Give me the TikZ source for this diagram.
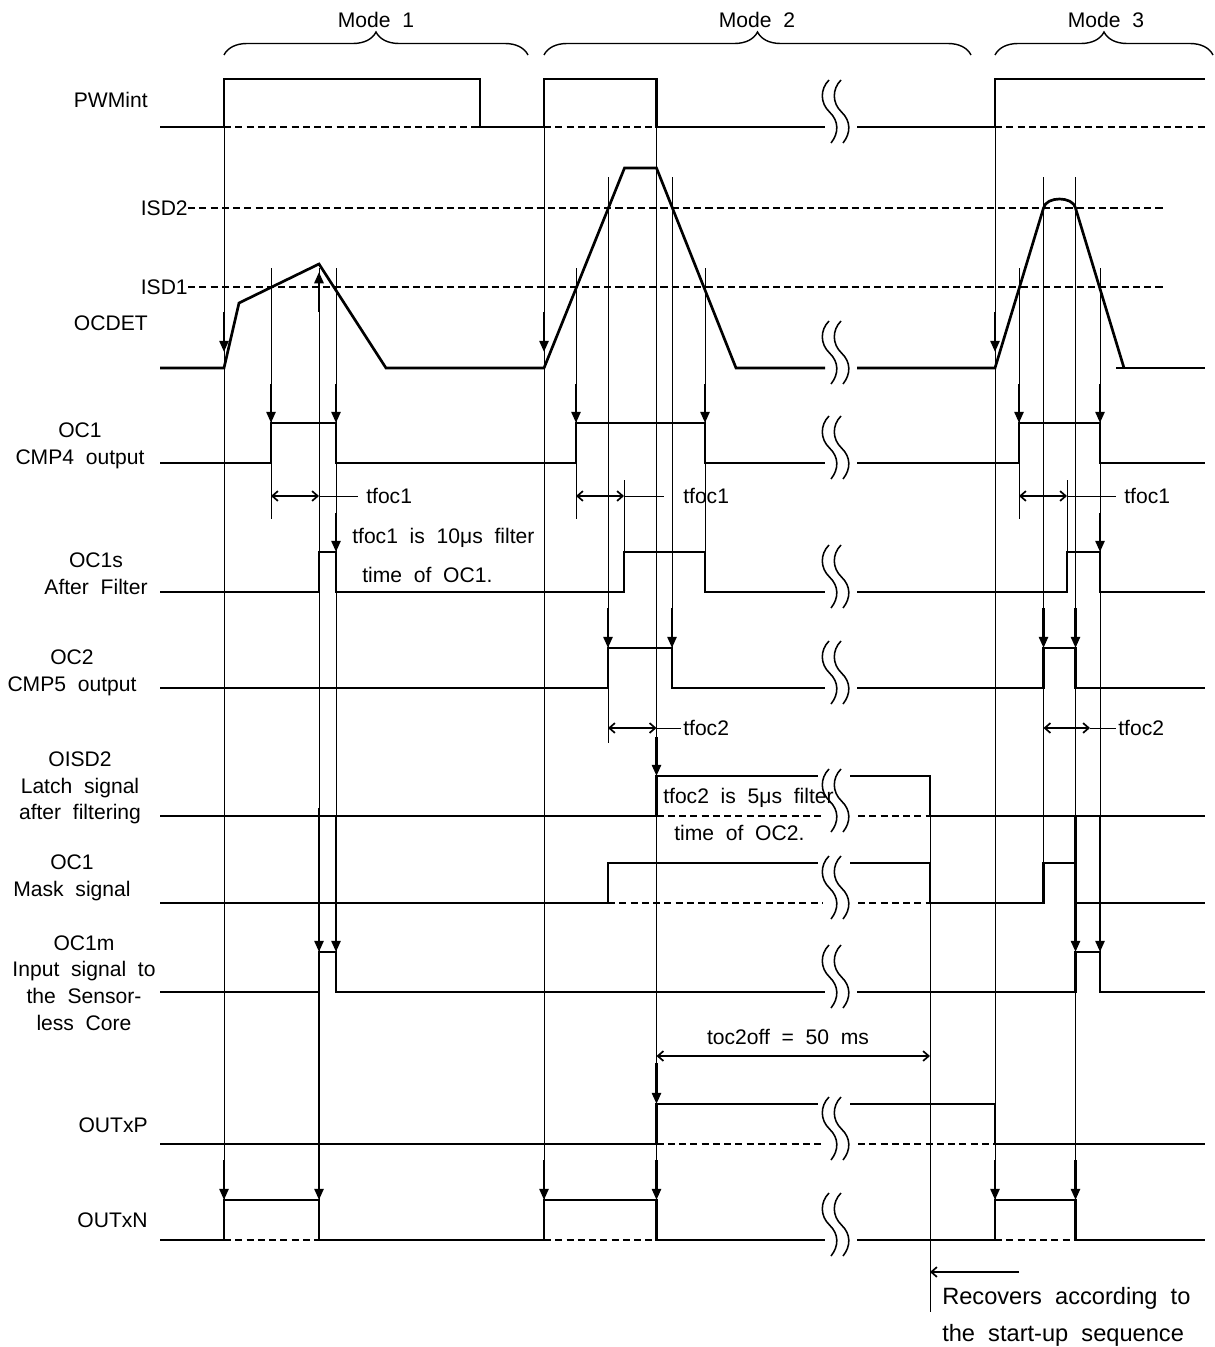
\documentclass[tikz,border=0pt]{standalone}
\usepackage{fontspec}
\setmainfont{Liberation Sans}[WordSpace=2]
\usetikzlibrary{arrows.meta,decorations.pathreplacing}

\newcommand{\sqbreak}[1]{%
  \foreach \dx in {0,12}{%
    \draw[brk, shift={(\dx,#1)}] (829,-47) .. controls (820,-38) and (820,-24) .. (829.5,-15)
      .. controls (839,-6) and (839,6) .. (831,16);
  }}

\begin{document}
\begin{tikzpicture}[
        x=0.025cm, y=-0.025cm,
        font=\fontsize{15}{19}\selectfont,
        sig/.style={line width=1.9pt, line join=miter},
        guide/.style={line width=0.7pt},
        lowref/.style={line width=0.8pt, dash pattern=on 5pt off 3pt},
        trig/.style={line width=1.7pt, -{Triangle[length=8pt,width=6.5pt]}},
        dimarr/.style={line width=1.2pt, {Straight Barb[length=4pt,width=7pt]}-{Straight Barb[length=4pt,width=7pt]}},
        brk/.style={line width=1.1pt},
        brc/.style={line width=1pt, decorate, decoration={brace, amplitude=0.575cm}},
        lbl/.style={inner sep=0pt, align=center}
    ]
    \useasboundingbox (0,0) rectangle (1215,1347);

    % modes
    \draw[brc] (224,55) -- (528,55);
    \draw[brc] (544,55) -- (971,55);
    \draw[brc] (995,55) -- (1213,55);
    \node[lbl] (mode1) at (376,20) {Mode 1};
    \node[lbl] (mode2) at (757,20) {Mode 2};
    \node[lbl] (mode3) at (1106,20) {Mode 3};

    % signal names
    \node[lbl, anchor=east] (pwm) at (148,100) {PWMint};
    \node[lbl, anchor=east] (isd2) at (188,208) {ISD2};
    \node[lbl, anchor=east] (isd1) at (188,287) {ISD1};
    \node[lbl, anchor=east] (ocdet) at (148,323) {OCDET};
    \node[lbl] (oc1) at (80,446) {OC1\\CMP4 output};
    \node[lbl] (oc1s) at (96,574) {OC1s\\After Filter};
    \node[lbl] (oc2) at (72,673) {OC2\\CMP5 output};
    \node[lbl] (oisd2) at (80,788) {OISD2\\Latch signal\\after filtering};
    \node[lbl] (mask) at (72,878) {OC1\\Mask signal};
    \node[lbl] (oc1m) at (84,983) {OC1m\\Input signal to\\the Sensor-\\less Core};
    \node[lbl, anchor=east] (outp) at (148,1125) {OUTxP};
    \node[lbl, anchor=east] (outn) at (148,1220) {OUTxN};

    % guide lines
    \foreach \x/\ya/\yb in {224/127/1200, 271/268/519, 319/268/1200, 336/268/992,
        544/127/1200, 576/268/519, 608/177/743, 624/480/552, 656.5/127/1200,
        672/177/688, 705/268/592, 930/776/1312, 995/127/1200, 1019/268/519,
        1043.5/177/903, 1067/480/552, 1075.5/177/1200, 1100/268/992}
        {\draw[guide] (\x,\ya) -- (\x,\yb);}

    % thresholds
    \draw[lowref] (188,208) -- (1163,208);
    \draw[lowref] (188,287) -- (1163,287);

    % dashed low levels
    \draw[lowref] (224,127) -- (480,127) (544,127) -- (656.5,127) (995,127) -- (1205,127);
    \draw[lowref] (656.5,816) -- (822,816) (858,816) -- (930,816);
    \draw[lowref] (608,903) -- (822,903) (858,903) -- (930,903);
    \draw[lowref] (656.5,1144) -- (822,1144) (858,1144) -- (995,1144);
    \draw[lowref] (224,1240) -- (319,1240) (544,1240) -- (656.5,1240) (995,1240) -- (1075.5,1240);

    % PWMint
    \draw[sig] (160,127) -- (224,127) -- (224,79) -- (480,79) -- (480,127) -- (544,127) -- (544,79)
        -- (656.5,79) -- (656.5,127) -- (825,127);
    \draw[sig] (857,127) -- (995,127) -- (995,79) -- (1205,79);

    % OCDET
    \draw[sig] (160,368) -- (224,368) -- (239,303) -- (319,264) -- (386,368) -- (544,368)
        -- (624.5,168) -- (656.5,168) -- (736,368) -- (825,368);
    \draw[sig] (857,368) -- (995,368) -- (1043.5,208) .. controls (1046,196) and (1073,196) .. (1075.5,208)
        -- (1124,368);
    \draw[sig] (1116,368) -- (1205,368);

    % OC1
    \draw[sig] (160,463) -- (271,463) -- (271,423) -- (336,423) -- (336,463) -- (576,463) -- (576,423)
        -- (705,423) -- (705,463) -- (825,463);
    \draw[sig] (857,463) -- (1019,463) -- (1019,423) -- (1100,423) -- (1100,463) -- (1205,463);

    % OC1s
    \draw[sig] (160,592) -- (319,592) -- (319,552) -- (336,552) -- (336,592) -- (624,592) -- (624,552)
        -- (705,552) -- (705,592) -- (825,592);
    \draw[sig] (857,592) -- (1067,592) -- (1067,552) -- (1100,552) -- (1100,592) -- (1205,592);

    % OC2
    \draw[sig] (160,688) -- (608,688) -- (608,648) -- (672,648) -- (672,688) -- (825,688);
    \draw[sig] (857,688) -- (1043.5,688) -- (1043.5,648) -- (1075.5,648) -- (1075.5,688) -- (1205,688);

    % OISD2
    \draw[sig] (160,816) -- (656.5,816) -- (656.5,776) -- (818,776);
    \draw[sig] (850,776) -- (930,776) -- (930,816) -- (1205,816);

    % OC1 mask
    \draw[sig] (160,903) -- (608,903) -- (608,863) -- (818,863);
    \draw[sig] (850,863) -- (930,863) -- (930,903) -- (1043.5,903) -- (1043.5,863) -- (1075.5,863)
        -- (1075.5,903) -- (1205,903);

    % OC1m
    \draw[sig] (160,992) -- (319,992) -- (319,952) -- (336,952) -- (336,992) -- (825,992);
    \draw[sig] (857,992) -- (1075.5,992) -- (1075.5,952) -- (1100,952) -- (1100,992) -- (1205,992);

    % OUTxP
    \draw[sig] (160,1144) -- (656.5,1144) -- (656.5,1104) -- (818,1104);
    \draw[sig] (850,1104) -- (995,1104) -- (995,1144) -- (1205,1144);

    % OUTxN
    \draw[sig] (160,1240) -- (224,1240) -- (224,1200) -- (319,1200) -- (319,1240) -- (544,1240)
        -- (544,1200) -- (656.5,1200) -- (656.5,1240) -- (825,1240);
    \draw[sig] (857,1240) -- (995,1240) -- (995,1200) -- (1075.5,1200) -- (1075.5,1240) -- (1205,1240);

    % breaks
    \foreach \y in {127,368,463,592,688,816,903,992,1144,1240}
        {\sqbreak{\y}}

    % triggers
    \foreach \x in {224,544,995}
        {\draw[trig] (\x,312) -- (\x,352);}
    \draw[trig] (319,312) -- (319,272);
    \foreach \x in {271,336,576,705,1019,1100}
        {\draw[trig] (\x,384) -- (\x,423);}
    \foreach \x in {336,1100}
        {\draw[trig] (\x,513) -- (\x,552);}
    \foreach \x in {608,672,1043.5,1075.5}
        {\draw[trig] (\x,608) -- (\x,648);}
    \draw[trig] (656.5,737) -- (656.5,776);
    \draw[trig] (319,808) -- (319,952);
    \foreach \x in {336,1075.5,1100}
        {\draw[trig] (\x,816) -- (\x,952);}
    \draw[trig] (319,992) -- (319,1200);
    \draw[trig] (656.5,1063) -- (656.5,1104);
    \foreach \x in {224,544,656.5,995,1075.5}
        {\draw[trig] (\x,1160) -- (\x,1200);}

    % filter times
    \draw[dimarr] (271,496) -- (319,496);
    \draw[guide] (319,496) -- (358,496);
    \node[lbl, anchor=west] (tf1a) at (366,496) {tfoc1};
    \draw[dimarr] (576,496) -- (624,496);
    \draw[guide] (624,496) -- (664,496);
    \node[lbl, anchor=west] (tf1b) at (683,496) {tfoc1};
    \draw[dimarr] (1019,496) -- (1067,496);
    \draw[guide] (1067,496) -- (1116,496);
    \node[lbl, anchor=west] (tf1c) at (1124,496) {tfoc1};
    \node[lbl, anchor=west] (note1a) at (352,538) {tfoc1 is 10μs filter};
    \node[lbl, anchor=west] (note1b) at (362,575) {time of OC1.};

    \draw[dimarr] (608,728) -- (656.5,728);
    \draw[guide] (656.5,728) -- (681,728);
    \node[lbl, anchor=west] (tf2a) at (683,728) {tfoc2};
    \draw[dimarr] (1043.5,728) -- (1090,728);
    \draw[guide] (1090,728) -- (1116,728);
    \node[lbl, anchor=west] (tf2b) at (1118,728) {tfoc2};
    \node[lbl, anchor=west] (note2a) at (663,798) {tfoc2 is 5μs filter};
    \node[lbl, anchor=west] (note2b) at (674,833) {time of OC2.};

    % off time and recovery
    \draw[dimarr] (656.5,1056) -- (930,1056);
    \node[lbl] (toff) at (788,1037) {toc2off = 50 ms};
    \draw[line width=1.2pt, -{Straight Barb[length=4pt,width=7pt]}] (1019,1272) -- (930,1272);
    \node[lbl, anchor=west, font=\fontsize{16.8}{20}\selectfont] (rec1) at (942,1298) {Recovers according to};
    \node[lbl, anchor=west, font=\fontsize{16.8}{20}\selectfont] (rec2) at (942,1335) {the start-up sequence};
\end{tikzpicture}
\end{document}
